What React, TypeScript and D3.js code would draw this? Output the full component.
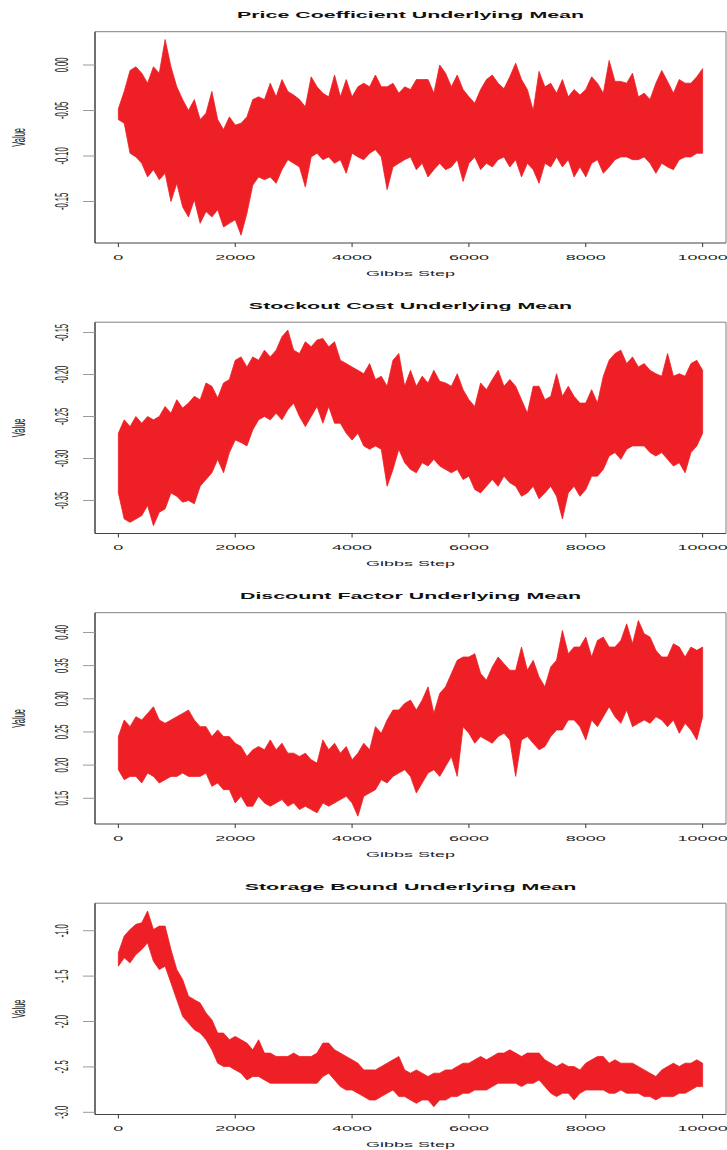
import * as d3 from 'd3';

// Gibbs steps, one reading every 100 steps (upper / lower edge of the trace)
const stepGrid = d3.range(0, 10001, 100);

const titles = [
  'Price Coefficient Underlying Mean',
  'Stockout Cost Underlying Mean',
  'Discount Factor Underlying Mean',
  'Storage Bound Underlying Mean',
];

const priceHi = [
  -0.048, -0.029, -0.006, -0.002, -0.009, -0.020, -0.002, -0.009, 0.028, -0.002,
  -0.024, -0.038, -0.050, -0.038, -0.060, -0.053, -0.029, -0.060, -0.071, -0.057,
  -0.066, -0.064, -0.057, -0.038, -0.035, -0.038, -0.020, -0.035, -0.016, -0.029,
  -0.033, -0.038, -0.046, -0.013, -0.024, -0.031, -0.035, -0.011, -0.035, -0.016,
  -0.035, -0.024, -0.020, -0.024, -0.011, -0.024, -0.024, -0.020, -0.031, -0.024,
  -0.027, -0.016, -0.016, -0.016, -0.031, 0.000, -0.009, -0.024, -0.011, -0.027,
  -0.035, -0.042, -0.027, -0.016, -0.011, -0.020, -0.026, -0.013, 0.002, -0.016,
  -0.027, -0.050, -0.007, -0.024, -0.020, -0.031, -0.016, -0.035, -0.027, -0.033,
  -0.027, -0.013, -0.020, -0.031, 0.005, -0.018, -0.018, -0.020, -0.009, -0.035,
  -0.031, -0.038, -0.020, -0.006, -0.018, -0.031, -0.016, -0.020, -0.020, -0.013,
  -0.004,
];
const priceLo = [
  -0.060, -0.064, -0.097, -0.101, -0.108, -0.123, -0.115, -0.126, -0.119, -0.150,
  -0.130, -0.156, -0.167, -0.148, -0.174, -0.161, -0.167, -0.159, -0.178, -0.174,
  -0.170, -0.187, -0.163, -0.132, -0.123, -0.126, -0.123, -0.130, -0.115, -0.104,
  -0.108, -0.112, -0.134, -0.101, -0.097, -0.104, -0.101, -0.108, -0.104, -0.119,
  -0.097, -0.101, -0.104, -0.097, -0.093, -0.101, -0.137, -0.112, -0.108, -0.104,
  -0.101, -0.115, -0.108, -0.123, -0.115, -0.108, -0.115, -0.112, -0.104, -0.128,
  -0.108, -0.101, -0.115, -0.108, -0.112, -0.104, -0.101, -0.112, -0.104, -0.123,
  -0.108, -0.115, -0.130, -0.108, -0.112, -0.101, -0.112, -0.104, -0.123, -0.112,
  -0.123, -0.108, -0.104, -0.119, -0.112, -0.104, -0.101, -0.101, -0.104, -0.104,
  -0.101, -0.108, -0.119, -0.108, -0.112, -0.115, -0.104, -0.101, -0.101, -0.097,
  -0.097,
];

const stockoutHi = [
  -0.270, -0.254, -0.262, -0.250, -0.258, -0.250, -0.254, -0.250, -0.238, -0.246,
  -0.230, -0.240, -0.234, -0.226, -0.230, -0.210, -0.214, -0.228, -0.210, -0.206,
  -0.183, -0.179, -0.191, -0.179, -0.183, -0.171, -0.179, -0.171, -0.155, -0.147,
  -0.171, -0.175, -0.161, -0.167, -0.159, -0.157, -0.167, -0.161, -0.183, -0.187,
  -0.191, -0.195, -0.199, -0.187, -0.206, -0.202, -0.214, -0.183, -0.175, -0.214,
  -0.195, -0.214, -0.202, -0.210, -0.195, -0.208, -0.210, -0.214, -0.199, -0.218,
  -0.230, -0.238, -0.210, -0.218, -0.206, -0.195, -0.214, -0.206, -0.214, -0.230,
  -0.246, -0.214, -0.214, -0.230, -0.226, -0.199, -0.226, -0.214, -0.226, -0.234,
  -0.234, -0.218, -0.234, -0.202, -0.183, -0.175, -0.171, -0.187, -0.179, -0.191,
  -0.187, -0.195, -0.199, -0.202, -0.175, -0.202, -0.199, -0.202, -0.187, -0.183,
  -0.195,
];
const stockoutLo = [
  -0.341, -0.372, -0.376, -0.372, -0.368, -0.356, -0.380, -0.364, -0.360, -0.341,
  -0.345, -0.352, -0.350, -0.354, -0.333, -0.325, -0.317, -0.301, -0.317, -0.293,
  -0.278, -0.281, -0.285, -0.266, -0.254, -0.250, -0.254, -0.246, -0.254, -0.242,
  -0.234, -0.250, -0.262, -0.250, -0.238, -0.258, -0.238, -0.258, -0.258, -0.270,
  -0.278, -0.270, -0.285, -0.289, -0.285, -0.289, -0.333, -0.313, -0.289, -0.305,
  -0.313, -0.317, -0.305, -0.309, -0.301, -0.309, -0.313, -0.317, -0.313, -0.325,
  -0.321, -0.337, -0.341, -0.333, -0.325, -0.333, -0.321, -0.329, -0.333, -0.345,
  -0.341, -0.333, -0.348, -0.341, -0.333, -0.345, -0.372, -0.341, -0.333, -0.345,
  -0.337, -0.321, -0.321, -0.313, -0.297, -0.293, -0.301, -0.289, -0.285, -0.285,
  -0.285, -0.293, -0.297, -0.293, -0.301, -0.309, -0.305, -0.317, -0.293, -0.285,
  -0.270,
];

const discountHi = [
  0.243, 0.268, 0.258, 0.273, 0.268, 0.278, 0.288, 0.268, 0.263, 0.268,
  0.273, 0.278, 0.283, 0.268, 0.258, 0.258, 0.243, 0.253, 0.243, 0.243,
  0.233, 0.228, 0.213, 0.223, 0.228, 0.223, 0.238, 0.223, 0.233, 0.218,
  0.218, 0.213, 0.218, 0.208, 0.203, 0.238, 0.223, 0.233, 0.218, 0.228,
  0.208, 0.218, 0.233, 0.223, 0.258, 0.248, 0.268, 0.283, 0.283, 0.293,
  0.298, 0.283, 0.298, 0.318, 0.278, 0.308, 0.318, 0.338, 0.358, 0.363,
  0.363, 0.368, 0.338, 0.328, 0.348, 0.363, 0.353, 0.343, 0.343, 0.378,
  0.343, 0.358, 0.333, 0.318, 0.348, 0.358, 0.403, 0.368, 0.378, 0.378,
  0.393, 0.363, 0.388, 0.393, 0.378, 0.378, 0.388, 0.413, 0.383, 0.418,
  0.398, 0.393, 0.373, 0.363, 0.363, 0.383, 0.378, 0.363, 0.378, 0.373,
  0.378,
];
const discountLo = [
  0.193, 0.178, 0.183, 0.183, 0.173, 0.188, 0.183, 0.173, 0.178, 0.183,
  0.183, 0.188, 0.183, 0.183, 0.183, 0.188, 0.168, 0.173, 0.163, 0.163,
  0.143, 0.153, 0.138, 0.138, 0.153, 0.143, 0.138, 0.143, 0.148, 0.138,
  0.143, 0.133, 0.138, 0.133, 0.128, 0.143, 0.138, 0.143, 0.148, 0.153,
  0.143, 0.123, 0.153, 0.158, 0.163, 0.178, 0.173, 0.183, 0.188, 0.193,
  0.183, 0.158, 0.173, 0.188, 0.193, 0.183, 0.198, 0.213, 0.183, 0.258,
  0.248, 0.233, 0.243, 0.238, 0.233, 0.243, 0.248, 0.238, 0.183, 0.238,
  0.243, 0.233, 0.223, 0.228, 0.243, 0.253, 0.253, 0.268, 0.268, 0.258,
  0.238, 0.268, 0.258, 0.273, 0.288, 0.273, 0.263, 0.283, 0.258, 0.263,
  0.268, 0.263, 0.273, 0.268, 0.258, 0.268, 0.248, 0.263, 0.253, 0.238,
  0.273,
];

const storageHi = [
  -1.243, -1.059, -0.986, -0.930, -0.912, -0.783, -0.986, -0.949, -0.949, -1.207,
  -1.428, -1.538, -1.722, -1.759, -1.796, -1.906, -1.980, -2.127, -2.127, -2.201,
  -2.164, -2.201, -2.238, -2.312, -2.201, -2.348, -2.348, -2.385, -2.385, -2.385,
  -2.348, -2.385, -2.385, -2.385, -2.348, -2.238, -2.238, -2.312, -2.348, -2.385,
  -2.422, -2.459, -2.533, -2.533, -2.533, -2.496, -2.459, -2.422, -2.385, -2.533,
  -2.569, -2.533, -2.569, -2.606, -2.569, -2.569, -2.533, -2.533, -2.496, -2.459,
  -2.459, -2.422, -2.385, -2.422, -2.385, -2.348, -2.348, -2.312, -2.348, -2.385,
  -2.348, -2.348, -2.348, -2.422, -2.459, -2.496, -2.459, -2.496, -2.496, -2.533,
  -2.459, -2.422, -2.385, -2.385, -2.459, -2.422, -2.459, -2.459, -2.459, -2.496,
  -2.533, -2.569, -2.606, -2.533, -2.496, -2.459, -2.496, -2.459, -2.459, -2.422,
  -2.459,
];
const storageLo = [
  -1.391, -1.299, -1.354, -1.262, -1.207, -1.133, -1.335, -1.428, -1.391, -1.575,
  -1.759, -1.943, -2.017, -2.091, -2.127, -2.201, -2.312, -2.459, -2.496, -2.496,
  -2.533, -2.569, -2.643, -2.606, -2.606, -2.643, -2.680, -2.680, -2.680, -2.680,
  -2.680, -2.680, -2.680, -2.680, -2.680, -2.606, -2.569, -2.643, -2.717, -2.754,
  -2.754, -2.790, -2.827, -2.864, -2.864, -2.827, -2.790, -2.754, -2.827, -2.827,
  -2.864, -2.901, -2.864, -2.864, -2.938, -2.864, -2.864, -2.827, -2.827, -2.790,
  -2.790, -2.754, -2.754, -2.754, -2.717, -2.680, -2.680, -2.680, -2.680, -2.717,
  -2.680, -2.680, -2.643, -2.717, -2.790, -2.827, -2.790, -2.790, -2.864, -2.790,
  -2.754, -2.754, -2.754, -2.754, -2.790, -2.790, -2.754, -2.790, -2.790, -2.790,
  -2.827, -2.827, -2.864, -2.827, -2.827, -2.827, -2.790, -2.790, -2.754, -2.717,
  -2.717,
];

const xTicks = [0, 2000, 4000, 6000, 8000, 10000];
const priceTicks = [0, -0.05, -0.1, -0.15];
const priceTickLabels = ['0.00', '-0.05', '-0.10', '-0.15'];
const stockoutTicks = [-0.15, -0.2, -0.25, -0.3, -0.35];
const stockoutTickLabels = ['-0.15', '-0.20', '-0.25', '-0.30', '-0.35'];
const discountTicks = [0.15, 0.2, 0.25, 0.3, 0.35, 0.4];
const discountTickLabels = ['0.15', '0.20', '0.25', '0.30', '0.35', '0.40'];
const storageTicks = [-1.0, -1.5, -2.0, -2.5, -3.0];
const storageTickLabels = ['-1.0', '-1.5', '-2.0', '-2.5', '-3.0'];

const panels = [
  { title: titles[0], hi: priceHi, lo: priceLo, ticks: priceTicks, labels: priceTickLabels },
  { title: titles[1], hi: stockoutHi, lo: stockoutLo, ticks: stockoutTicks, labels: stockoutTickLabels },
  { title: titles[2], hi: discountHi, lo: discountLo, ticks: discountTicks, labels: discountTickLabels },
  { title: titles[3], hi: storageHi, lo: storageLo, ticks: storageTicks, labels: storageTickLabels },
];

// layout
const W = 727;
const H = 1150;
const PANEL_H = 290.5;
const LEFT = 95;
const RIGHT = 726;
const TOP = 31.7;
const BOTTOM = 243;
const RED = '#ee1f25';
const SQUASH = 0.42; // the figure's text is flattened vertically
const FONT = '"Liberation Sans", Arial, Helvetica, sans-serif';

// R style axis range: data extent plus 4% each side
const rRange = (ext: [number, number]): [number, number] => {
  const pad = (ext[1] - ext[0]) * 0.04;
  return [ext[0] - pad, ext[1] + pad];
};

const xScale = d3.scaleLinear().domain(rRange([0, 10000])).range([LEFT, RIGHT]);

type Panel = typeof panels[number];

const TracePanel = ({ panel, index }: { panel: Panel; index: number }) => {
  const n = Math.min(stepGrid.length, panel.hi.length, panel.lo.length);
  const rows = d3.range(n).map(i => ({ step: stepGrid[i], hi: panel.hi[i], lo: panel.lo[i] }));
  const ext: [number, number] = [d3.min(rows, d => d.lo) as number, d3.max(rows, d => d.hi) as number];
  const yScale = d3.scaleLinear().domain(rRange(ext)).range([BOTTOM, TOP]);

  const area = d3.area<{ step: number; hi: number; lo: number }>()
    .x(d => xScale(d.step))
    .y0(d => yScale(d.lo))
    .y1(d => yScale(d.hi));

  const midY = (TOP + BOTTOM) / 2;

  return (
    <g transform={`translate(0, ${index * PANEL_H})`}>
      {/* title */}
      <text
        transform={`translate(${(LEFT + RIGHT) / 2}, 18.4) scale(1, ${SQUASH})`}
        textAnchor="middle"
        fontFamily={FONT}
        fontWeight="bold"
        fontSize={21.4}
        fill="#111"
      >
        {panel.title}
      </text>

      {/* trace */}
      <path d={area(rows) ?? ''} fill={RED} stroke={RED} strokeWidth={0.8} strokeLinejoin="round" />

      {/* box */}
      <line x1={LEFT} x2={RIGHT} y1={TOP} y2={TOP} stroke="#808080" strokeWidth={1} />
      <line x1={RIGHT} x2={RIGHT} y1={TOP} y2={BOTTOM} stroke="#808080" strokeWidth={1} />
      <line x1={LEFT} x2={RIGHT} y1={BOTTOM} y2={BOTTOM} stroke="#444" strokeWidth={1.2} />
      <line x1={LEFT} x2={LEFT} y1={TOP} y2={BOTTOM} stroke="#333" strokeWidth={1.4} />

      {/* x axis */}
      {xTicks.map(t => (
        <g key={t}>
          <line x1={xScale(t)} x2={xScale(t)} y1={BOTTOM} y2={BOTTOM + 4} stroke="#333" strokeWidth={1} />
          <text
            transform={`translate(${xScale(t)}, 259.6) scale(1, ${SQUASH})`}
            textAnchor="middle"
            fontFamily={FONT}
            fontSize={18}
            fill="#222"
          >
            {t}
          </text>
        </g>
      ))}
      <text
        transform={`translate(${(LEFT + RIGHT) / 2}, 275.5) scale(1, ${SQUASH})`}
        textAnchor="middle"
        fontFamily={FONT}
        fontSize={18}
        fill="#222"
      >
        Gibbs Step
      </text>

      {/* y axis */}
      {panel.ticks.map((t, i) => (
        <g key={t}>
          <line x1={LEFT - 12} x2={LEFT} y1={yScale(t)} y2={yScale(t)} stroke="#999" strokeWidth={1} />
          <text
            transform={`translate(68, ${yScale(t)}) rotate(-90) scale(${SQUASH}, 1)`}
            textAnchor="middle"
            fontFamily={FONT}
            fontSize={18}
            fill="#222"
          >
            {panel.labels[i]}
          </text>
        </g>
      ))}
      <text
        transform={`translate(25, ${midY}) rotate(-90) scale(${SQUASH}, 1)`}
        textAnchor="middle"
        fontFamily={FONT}
        fontSize={18}
        fill="#222"
      >
        Value
      </text>
    </g>
  );
};

export default function App() {
  return (
    <svg
      width={W}
      height={H}
      viewBox={`0 0 ${W} ${H}`}
      style={{ position: 'absolute', left: 0, top: 0, background: '#fff' }}
    >
      <rect width={W} height={H} fill="#fff" />
      {panels.map((p, i) => (
        <TracePanel key={p.title} panel={p} index={i} />
      ))}
    </svg>
  );
}
